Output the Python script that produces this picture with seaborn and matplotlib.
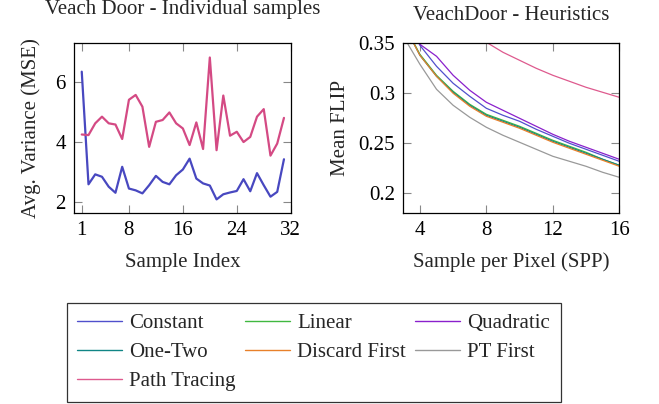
import numpy as np
import pandas as pd
import matplotlib
matplotlib.use("Agg")
import matplotlib.pyplot as plt
import seaborn as sns

# ---------------- data ----------------
sample_index = list(range(1, 32))
constant_var = [6.33, 2.60, 2.93, 2.85, 2.52, 2.32, 3.18, 2.46, 2.40, 2.30,
                2.57, 2.88, 2.68, 2.60, 2.90, 3.09, 3.45, 2.79, 2.63, 2.56,
                2.10, 2.27, 2.33, 2.38, 2.77, 2.37, 2.97, 2.57, 2.19, 2.35, 3.43]
pathtracing_var = [4.25, 4.23, 4.62, 4.84, 4.62, 4.58, 4.10, 5.40, 5.56, 5.17,
                   3.84, 4.67, 4.73, 4.98, 4.62, 4.45, 3.90, 4.65, 3.77, 6.80,
                   3.73, 5.54, 4.21, 4.34, 4.00, 4.17, 4.84, 5.09, 3.55, 3.95, 4.80]

spp = list(range(3, 17))
flip_constant = [0.380, 0.348, 0.327, 0.310, 0.297, 0.285, 0.278, 0.272, 0.264, 0.257, 0.250, 0.244, 0.238, 0.232]
flip_linear = [0.370, 0.339, 0.318, 0.302, 0.289, 0.279, 0.273, 0.267, 0.260, 0.253, 0.247, 0.241, 0.234, 0.228]
flip_quadratic = [0.380, 0.349, 0.337, 0.318, 0.303, 0.291, 0.283, 0.275, 0.267, 0.259, 0.252, 0.246, 0.240, 0.234]
flip_onetwo = [0.370, 0.338, 0.317, 0.301, 0.288, 0.278, 0.272, 0.266, 0.259, 0.252, 0.246, 0.240, 0.234, 0.228]
flip_discard = [0.370, 0.338, 0.317, 0.300, 0.287, 0.277, 0.271, 0.265, 0.258, 0.251, 0.245, 0.239, 0.233, 0.227]
flip_ptfirst = [0.357, 0.329, 0.304, 0.288, 0.276, 0.266, 0.258, 0.251, 0.244, 0.237, 0.232, 0.227, 0.221, 0.216]
flip_pathtracing = [0.450, 0.420, 0.400, 0.380, 0.362, 0.351, 0.341, 0.333, 0.325, 0.318, 0.312, 0.306, 0.301, 0.296]

methods = ["Constant", "Linear", "Quadratic", "One-Two", "Discard First", "PT First", "Path Tracing"]
colors = {"Constant": "#5050cc", "Linear": "#40b840", "Quadratic": "#8a20cc",
          "One-Two": "#108585", "Discard First": "#e8802a", "PT First": "#999999",
          "Path Tracing": "#de5a8e"}

left_xticks = [1, 8, 16, 24, 32]
left_yticks = [2, 4, 6]
right_xticks = [4, 8, 12, 16]
right_yticks = [0.2, 0.25, 0.3, 0.35]
right_yticklabels = ["0.2", "0.25", "0.3", "0.35"]

# ---------------- style ----------------
sns.set_theme(style="ticks")
plt.rcParams["font.family"] = ["Liberation Serif", "DejaVu Serif"]
FS = 15

fig = plt.figure(figsize=(6.59, 4.04), dpi=100)
W, H = 659, 404
ax1 = fig.add_axes([74 / W, 1 - 212.7 / H, 216.7 / W, 169.4 / H])
ax2 = fig.add_axes([403.3 / W, 1 - 212.7 / H, 216 / W, 169.4 / H])

# left
df_left = pd.DataFrame({
    "idx": sample_index * 2,
    "val": constant_var + pathtracing_var,
    "m": ["Constant"] * len(sample_index) + ["Path Tracing"] * len(sample_index),
})
left_pal = {"Constant": "#4848c0", "Path Tracing": "#d44a84"}
sns.lineplot(data=df_left, x="idx", y="val", hue="m", palette=left_pal, ax=ax1,
             legend=False, linewidth=1.6)
ax1.set_xlim(-0.15, 32)
ax1.set_ylim(1.66, 7.27)
ax1.set_xticks(left_xticks)
ax1.set_yticks(left_yticks)
ax1.set_xlabel("Sample Index", fontsize=FS, labelpad=9)
ax1.set_ylabel("Avg. Variance (MSE)", fontsize=FS, labelpad=10)
ax1.set_title("Veach Door - Individual samples", fontsize=FS, pad=21)

# right
rows = []
series = {"Constant": flip_constant, "Linear": flip_linear, "Quadratic": flip_quadratic,
          "One-Two": flip_onetwo, "Discard First": flip_discard, "PT First": flip_ptfirst,
          "Path Tracing": flip_pathtracing}
for m in methods:
    for s, v in zip(spp, series[m]):
        rows.append((s, v, m))
df_right = pd.DataFrame(rows, columns=["spp", "flip", "m"])
sns.lineplot(data=df_right, x="spp", y="flip", hue="m", hue_order=methods,
             palette=colors, ax=ax2, linewidth=0.9, legend=False)
ax2.set_xlim(3, 16)
ax2.set_ylim(0.1806, 0.35)
ax2.set_xticks(right_xticks)
ax2.set_yticks(right_yticks)
ax2.set_yticklabels(right_yticklabels)
ax2.set_xlabel("Sample per Pixel (SPP)", fontsize=FS, labelpad=9)
ax2.set_ylabel("Mean FLIP", fontsize=FS, labelpad=6)
ax2.set_title("VeachDoor - Heuristics", fontsize=FS, pad=17)

for ax in (ax1, ax2):
    for sp in ax.spines.values():
        sp.set_visible(True)
        sp.set_color("black")
        sp.set_linewidth(0.9)
    ax.tick_params(direction="in", top=True, right=True, length=6, width=0.8,
                   color="#888888", labelsize=FS, pad=6, labelcolor="black")

# legend (row-major order in 3 columns: matplotlib fills column by column)
ncol = 3
nrow = int(np.ceil(len(methods) / ncol))
leg_order = [methods[r * ncol + c] for c in range(ncol) for r in range(nrow)
             if r * ncol + c < len(methods)]
handles = [plt.Line2D([], [], color=colors[m], linewidth=1.0) for m in leg_order]
leg = fig.legend(handles, leg_order, ncol=ncol, loc="upper left",
                 bbox_to_anchor=(66.7 / W, 1 - 303.3 / H), frameon=True,
                 fancybox=False, edgecolor="black", fontsize=FS,
                 handlelength=2.15, handletextpad=0.35, columnspacing=0.45,
                 labelspacing=0.45, borderpad=0.5, borderaxespad=0)
leg.get_frame().set_linewidth(0.9)

fig.savefig("out.png", dpi=100)
